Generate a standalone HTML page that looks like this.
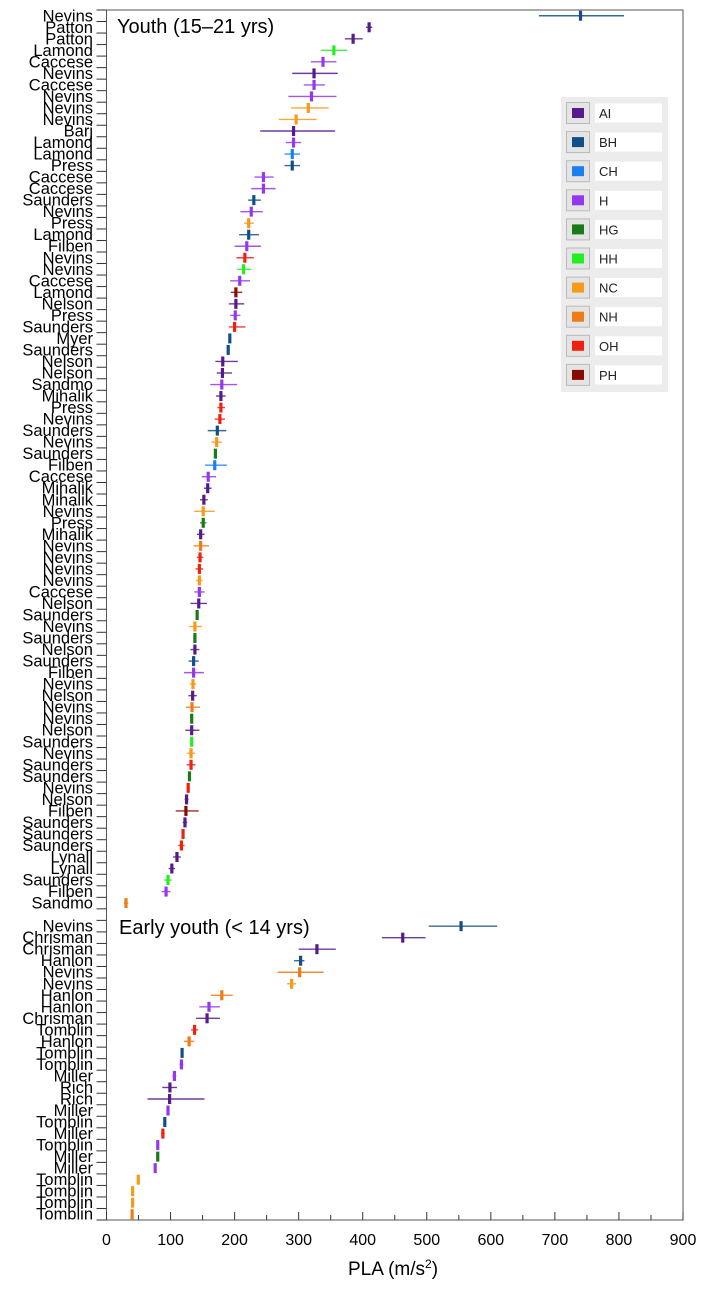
<!DOCTYPE html>
<html><head><meta charset="utf-8">
<style>
html,body{margin:0;padding:0;background:#fff;}
body{width:704px;height:1294px;overflow:hidden;font-family:"Liberation Sans",Arial,sans-serif;}
svg text{font-family:"Liberation Sans",Arial,sans-serif;}
</style></head>
<body>
<svg id="chart" width="704" height="1294" viewBox="0 0 704 1294" xmlns="http://www.w3.org/2000/svg">
<rect x="0" y="0" width="704" height="1294" fill="#fff"/>
<g id="marks"></g>
<g id="axes"></g>
<text x="117" y="33" font-size="20" fill="#000">Youth (15–21 yrs)</text>
<text x="119" y="934" font-size="20" fill="#000">Early youth (&lt; 14 yrs)</text>
<text x="393" y="1275" font-size="19" text-anchor="middle" fill="#000">PLA (m/s<tspan baseline-shift="super" font-size="12">2</tspan>)</text>
<g id="legend"></g>
</svg>
<script>
const youthLabels=["Nevins","Patton","Patton","Lamond","Caccese","Nevins","Caccese","Nevins","Nevins","Nevins","Barj","Lamond","Lamond","Press","Caccese","Caccese","Saunders","Nevins","Press","Lamond","Filben","Nevins","Nevins","Caccese","Lamond","Nelson","Press","Saunders","Myer","Saunders","Nelson","Nelson","Sandmo","Mihalik","Press","Nevins","Saunders","Nevins","Saunders","Filben","Caccese","Mihalik","Mihalik","Nevins","Press","Mihalik","Nevins","Nevins","Nevins","Nevins","Caccese","Nelson","Saunders","Nevins","Saunders","Nelson","Saunders","Filben","Nevins","Nelson","Nevins","Nevins","Nelson","Saunders","Nevins","Saunders","Saunders","Nevins","Nelson","Filben","Saunders","Saunders","Saunders","Lynall","Lynall","Saunders","Filben","Sandmo"];
const youthTypes=["BH","AI","AI","HH","H","AI","H","H","NC","NC","AI","H","CH","BH","H","H","BH","H","NC","BH","H","OH","HH","H","PH","AI","H","OH","BH","BH","AI","AI","H","AI","OH","OH","BH","NC","HG","CH","H","AI","AI","NC","HG","AI","NH","OH","OH","NC","H","AI","HG","NC","HG","AI","BH","H","NC","AI","NH","HG","AI","HH","NC","OH","HG","OH","AI","PH","AI","OH","OH","AI","AI","HH","H","NH"];
const youthValues=[740,410,385,355,338,324,324,320,315,296,292,292,290,290,245,245,230,226,222,222,219,216,214,208,202,202,201,200,192.5,190,181.5,181,180,178.6,178.6,177,173,172,170,169,158.8,158,152,151,151,147,147,146,145,145,145,144,141.5,138,138,138,136,136,135,134.5,133.5,133,133,133,132,132,129.5,127.5,125,124,122.5,119.5,117,110,102,96,93,30.4];
const youthLo=[675,405,372,335,319,290,308,284,288,269,240,280,278,278,231,226,221,209,215,207,200,203,204,193,194,191,193,191,191,189,170,172,162,171,173,169,158,164,169,154,149,152,146,137,146,141,136,141,139,140,137,131,140,129,137,131,128,121,130,128,124,132,123,132,126,125,128,125,122,108,119,118,112,104,97,90,86,27];
const youthHi=[808,415,400,376,359,361,341,359,347,328,357,304,302,302,261,264,241,244,230,238,241,230,226,224,212,215,209,217,194,191,205,196,204,186,185,185,187,180,171,188,171,164,158,169,156,153,160,151,151,150,153,157,143,149,139,145,144,152,140,141,146,134,145,134,138,139,131,130,128,144,126,121,122,116,107,102,100,34];
const earlyLabels=["Nevins","Chrisman","Chrisman","Hanlon","Nevins","Nevins","Hanlon","Hanlon","Chrisman","Tomblin","Hanlon","Tomblin","Tomblin","Miller","Rich","Rich","Miller","Tomblin","Miller","Tomblin","Miller","Miller","Tomblin","Tomblin","Tomblin","Tomblin"];
const earlyTypes=["BH","AI","AI","BH","NH","NC","NH","H","AI","OH","NH","BH","H","H","AI","AI","H","BH","OH","H","HG","H","NC","NC","NC","NH"];
const earlyValues=[553.5,462.5,328.5,303,301.5,289,180,160,157,137.5,129,118,117,106,99,98.5,96,91,88,80,80,76,49.6,40.8,40.8,40];
const earlyLo=[503,430,300,293,267,282,163,145,140,132,121,118,114,103,87,64,96,91,85,80,80,76,49.6,40.8,40.8,40];
const earlyHi=[610,498,358,309,339,296,197,177,177,143,137,118,120,109,110,153,96,91,91,80,80,76,49.6,40.8,40.8,40];
const legendKeys=["AI","BH","CH","H","HG","HH","NC","NH","OH","PH"];
const xTicks=[0,100,200,300,400,500,600,700,800,900];

const colors={AI:"#551a8b",BH:"#124f86",CH:"#1a80f0",H:"#9438f0",HG:"#1a7a1a",HH:"#22ee22",NC:"#f59a1a",NH:"#f07a14",OH:"#ee2211",PH:"#8a0a00"};
const NS="http://www.w3.org/2000/svg";
const L=106.5,R=683,T=10,B=1220,NROWS=105;
const rowH=(B-T)/NROWS;
function xS(v){return L+v*(R-L)/900;}
function yRow(k){return T+(k+0.5)*rowH;}
function mk(tag,attrs,parent){const e=document.createElementNS(NS,tag);for(const k in attrs)e.setAttribute(k,attrs[k]);parent.appendChild(e);return e;}
const marks=document.getElementById('marks'),axes=document.getElementById('axes'),lg=document.getElementById('legend');

const frame=mk('rect',{x:L,y:T,width:R-L,height:B-T,fill:"none",stroke:"#555","stroke-width":1},axes);


for(let k=0;k<=NROWS;k++){
  const y=T+k*rowH;
  const t=mk('line',{x1:L-10,x2:L,y1:y,y2:y,stroke:"#333","stroke-width":1},axes);
  
  
}
function drawRow(k,label,type,v,lo,hi){
  const y=yRow(k);
  const tl=mk('text',{x:93,y:y+5.5,"font-size":16.5,"text-anchor":"end",fill:"#000"},axes);
  tl.textContent=label;
  
  
  const c=colors[type];
  if(hi>lo){
    const w=mk('line',{x1:xS(lo),x2:xS(hi),y1:y,y2:y,stroke:c,"stroke-width":1.4,opacity:0.85},marks);
    
    
  }
  const m=mk('rect',{x:xS(v)-1.6,y:y-5,width:3.2,height:10,fill:c},marks);
  
  
}
youthLabels.forEach((l,i)=>drawRow(i,l,youthTypes[i],youthValues[i],youthLo[i],youthHi[i]));
earlyLabels.forEach((l,i)=>drawRow(i+79,l,earlyTypes[i],earlyValues[i],earlyLo[i],earlyHi[i]));
xTicks.forEach(v=>{
  const x=xS(v);
  const t=mk('line',{x1:x,x2:x,y1:B,y2:B-8,stroke:"#333"},axes);
  
  
  if(v<900){const m=mk('line',{x1:xS(v+50),x2:xS(v+50),y1:B,y2:B-5,stroke:"#333"},axes);
  
  }
  const lb=mk('text',{x:x,y:B+25,"font-size":16,"text-anchor":"middle",fill:"#000"},axes);
  lb.textContent=v;
  
  
});
const bg=mk('rect',{x:561,y:97,width:107,height:295,fill:"#ececec"},lg);


legendKeys.forEach((k,i)=>{
  const y=113+i*29.1;
  const g=mk('g',{},lg);
  
  
  mk('rect',{x:566.5,y:y-10.5,width:23,height:21,fill:"#e4e4e4",stroke:"#bbb"},g);
  mk('rect',{x:572,y:y-5,width:12,height:10,fill:colors[k]},g);
  mk('rect',{x:595,y:y-9.5,width:67,height:19,fill:"#fff"},g);
  const t=mk('text',{x:599,y:y+5,"font-size":13,fill:"#222"},g);
  t.textContent=k;
});
</script>
</body></html>
